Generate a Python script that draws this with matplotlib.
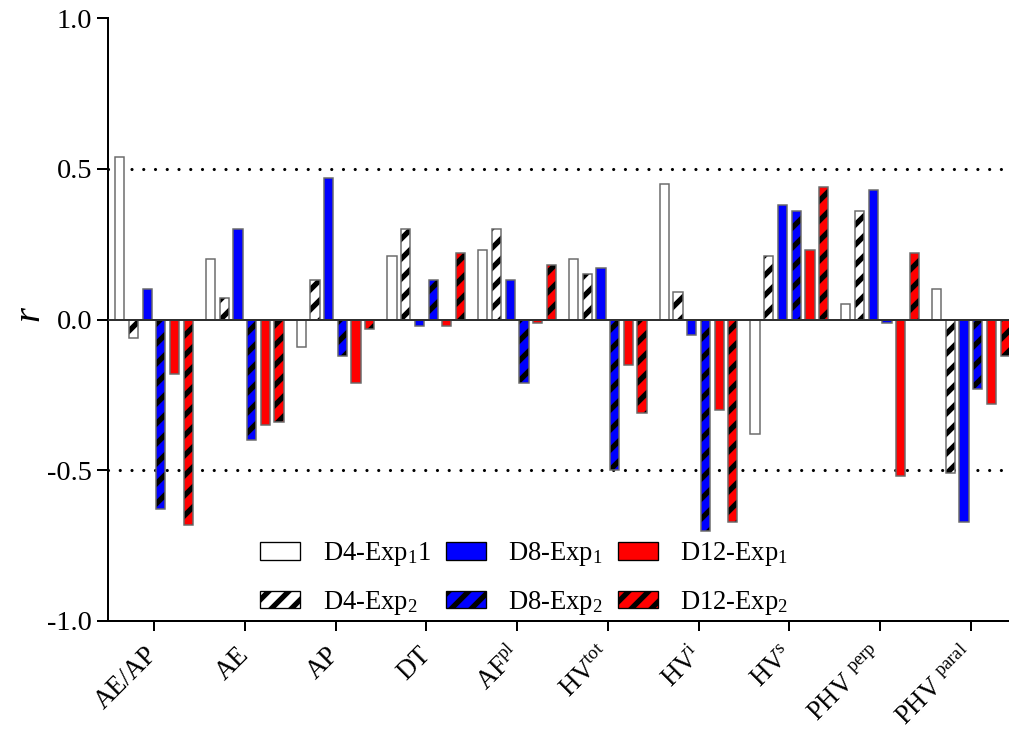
import matplotlib
matplotlib.use("Agg")
import matplotlib.pyplot as plt
from matplotlib.patches import Patch
import numpy as np

plt.rcParams["font.family"] = ["Liberation Serif", "DejaVu Serif"]
plt.rcParams["mathtext.fontset"] = "custom"
plt.rcParams["mathtext.rm"] = "Liberation Serif"
plt.rcParams["mathtext.it"] = "Liberation Serif:italic"
plt.rcParams["hatch.linewidth"] = 3.2
plt.rcParams["axes.unicode_minus"] = False

# Correlation coefficients per parameter
categories = ["AE/AP", "AE", "AP", "DT", r"AF$^{\mathrm{pl}}$", r"HV$^{\mathrm{tot}}$",
              r"HV$^{\mathrm{i}}$", r"HV$^{\mathrm{s}}$", r"PHV $^{\mathrm{perp}}$",
              r"PHV $^{\mathrm{paral}}$"]
d4_exp1 = [0.54, 0.20, -0.09, 0.21, 0.23, 0.20, 0.45, -0.38, 0.05, 0.10]
d4_exp2 = [-0.06, 0.07, 0.13, 0.30, 0.30, 0.15, 0.09, 0.21, 0.36, -0.51]
d8_exp1 = [0.10, 0.30, 0.47, -0.02, 0.13, 0.17, -0.05, 0.38, 0.43, -0.67]
d8_exp2 = [-0.63, -0.40, -0.12, 0.13, -0.21, -0.50, -0.70, 0.36, -0.01, -0.23]
d12_exp1 = [-0.18, -0.35, -0.21, -0.02, -0.01, -0.15, -0.30, 0.23, -0.52, -0.28]
d12_exp2 = [-0.68, -0.34, -0.03, 0.22, 0.18, -0.31, -0.67, 0.44, 0.22, -0.12]

series_labels = [r"D4-Exp$_1$1", r"D4-Exp$_2$", r"D8-Exp$_1$", r"D8-Exp$_2$",
                 r"D12-Exp$_1$", r"D12-Exp$_2$"]
yticks = [-1.0, -0.5, 0.0, 0.5, 1.0]

series = [
    (d4_exp1, "white", None),
    (d4_exp2, "white", "//"),
    (d8_exp1, "#0000ff", None),
    (d8_exp2, "#0000ff", "//"),
    (d12_exp1, "#ff0000", None),
    (d12_exp2, "#ff0000", "//"),
]

DPI = 120
fig = plt.figure(figsize=(1009 / DPI, 731 / DPI), dpi=DPI)
ax = fig.add_axes([108 / 1009, 110 / 731, 901 / 1009, 603 / 731])

x = np.arange(len(categories))
pitch = 0.151
width = 0.102
edge_gray = "#6a6a6a"

for k, (vals, color, hatch) in enumerate(series):
    pos = x + (k - 2.5) * pitch
    ax.bar(pos, vals, width, color=color, edgecolor="black", linewidth=0,
           hatch=hatch, zorder=2)
    ax.bar(pos, vals, width, facecolor="none", edgecolor=edge_gray,
           linewidth=0.9, zorder=3)

# reference lines
ax.axhline(0, color="#303030", lw=1.2, zorder=4)
for yv in (0.5, -0.5):
    ax.axhline(yv, color="black", lw=1.9, linestyle=(0, (0.01, 3.7)),
               dash_capstyle="round", zorder=1)

ax.set_xlim(-0.507, 9.42)
ax.set_ylim(-1.0, 1.0)
ax.set_yticks(yticks)
ax.set_yticklabels([f"{v:.1f}" for v in yticks], fontsize=17)
ax.set_xticks(x)
ax.set_xticklabels(categories, rotation=45, ha="right", va="center",
                   rotation_mode="anchor", fontsize=16)

for side in ("top", "right"):
    ax.spines[side].set_visible(False)
for side in ("left", "bottom"):
    ax.spines[side].set_linewidth(1.2)
ax.tick_params(axis="y", length=6.6, width=1.2, pad=3)
ax.tick_params(axis="x", length=6, width=1.2, pad=12)

ax.set_ylabel("r", fontsize=23, style="italic")
ax.yaxis.set_label_coords(-0.068, 0.51)

handles = [Patch(facecolor=c, edgecolor="black", hatch=h, linewidth=0.8)
           for _, c, h in series]
ax.legend(handles, series_labels, ncol=3, loc="upper left",
          bbox_to_anchor=(260 / 1009, 1 - 540 / 731),
          bbox_transform=fig.transFigure, frameon=False, fontsize=16,
          handlelength=1.5, handleheight=0.65, handletextpad=0.85,
          columnspacing=0.55, labelspacing=0.78, borderpad=0, borderaxespad=0)

fig.savefig("out.png", dpi=DPI)
